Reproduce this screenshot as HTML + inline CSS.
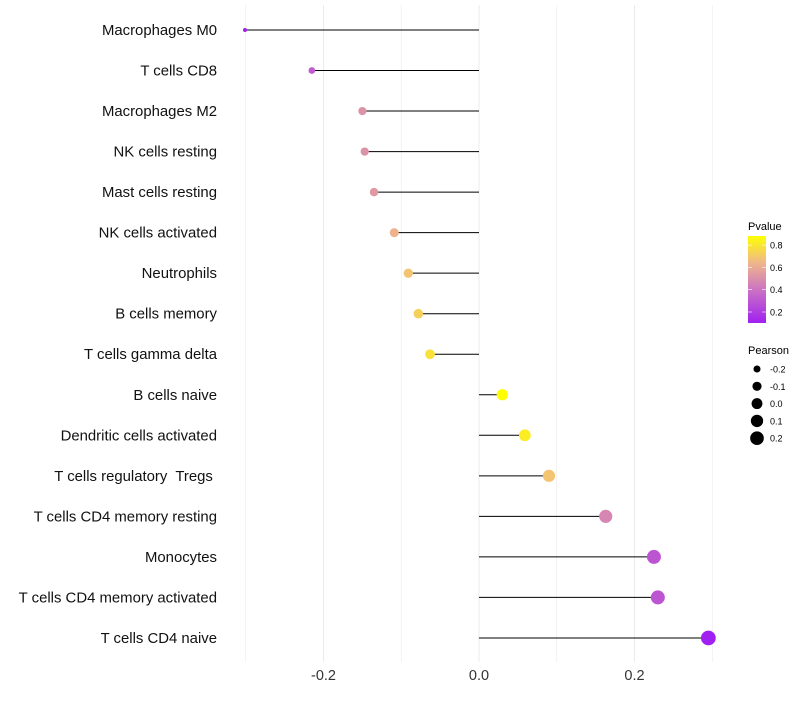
<!DOCTYPE html>
<html><head><meta charset="utf-8"><style>
body{margin:0;background:#fff;font-family:"Liberation Sans",sans-serif}
text{white-space:pre}
</style></head><body>
<svg id="c" width="800" height="700" xmlns="http://www.w3.org/2000/svg">
<defs><linearGradient id="g" x1="0" y1="1" x2="0" y2="0">
<stop offset="0" stop-color="#A020F0"/><stop offset="0.35" stop-color="#C86CC8"/><stop offset="0.7" stop-color="#F0B888"/><stop offset="1" stop-color="#FFFF00"/></linearGradient></defs>
</svg>
<script>
const categories=["Macrophages M0","T cells CD8","Macrophages M2","NK cells resting","Mast cells resting","NK cells activated","Neutrophils","B cells memory","T cells gamma delta","B cells naive","Dendritic cells activated","T cells regulatory  Tregs ","T cells CD4 memory resting","Monocytes","T cells CD4 memory activated","T cells CD4 naive"];
const pearson=[-0.301,-0.215,-0.150,-0.147,-0.135,-0.109,-0.091,-0.078,-0.063,0.030,0.059,0.090,0.163,0.225,0.230,0.295];
const pvalues=[0.10,0.30,0.50,0.50,0.52,0.62,0.68,0.72,0.78,0.88,0.82,0.68,0.45,0.28,0.28,0.08];
const xTicks=[-0.2,0.0,0.2];
const xMinor=[-0.3,-0.1,0.1,0.3];
const legendSizes=[-0.2,-0.1,0.0,0.1,0.2];
const legendP=[0.2,0.4,0.6,0.8];
const NS="http://www.w3.org/2000/svg",svg=document.getElementById('c');
const X=v=>479+v*777.5, Y=i=>30+i*40.53;
const R=v=>Math.sqrt(Math.max(3,4+85*(v+0.3)));
const stops=[[0.1,[160,32,240]],[0.37,[204,112,196]],[0.64,[240,184,136]],[0.88,[255,255,0]]];
function col(p){p=Math.max(0.1,Math.min(0.88,p));for(let i=0;i<stops.length-1;i++){const a=stops[i],b=stops[i+1];if(p<=b[0]){const t=(p-a[0])/(b[0]-a[0]);return 'rgb('+a[1].map((c,k)=>Math.round(c+(b[1][k]-c)*t)).join(',')+')';}}return 'rgb(255,255,0)';}
function el(t,a,txt){const e=document.createElementNS(NS,t);for(const k in a)e.setAttribute(k,a[k]);if(txt!=null)e.textContent=txt;svg.appendChild(e);return e;}
xMinor.concat(xTicks).forEach(v=>{const g=el('line',{x1:X(v),x2:X(v),y1:5,y2:662,stroke:'#ebebeb','stroke-width':xTicks.includes(v)?1:0.6});

});
xTicks.forEach(v=>{const t=el('text',{x:X(v),y:680,'font-size':14.5,'text-anchor':'middle',fill:'#333'},v.toFixed(1));

});
categories.forEach((c,i)=>{
const t=el('text',{x:217,y:Y(i)+5,'font-size':14.9,'text-anchor':'end',fill:'#111'},c);


const l=el('line',{x1:X(0),x2:X(pearson[i]),y1:Y(i),y2:Y(i),stroke:'#000','stroke-width':1});


const p=el('circle',{cx:X(pearson[i]),cy:Y(i),r:R(pearson[i]),fill:col(pvalues[i])});

});
let t=el('text',{x:748,y:230,'font-size':11},'Pvalue');


const bar=el('rect',{x:748,y:236,width:18,height:87,fill:'url(#g)'});


legendP.forEach(p=>{const y=312-(p-0.2)/0.2*22.3;
el('line',{x1:748,x2:752,y1:y,y2:y,stroke:'#fff','stroke-width':0.6});el('line',{x1:762,x2:766,y1:y,y2:y,stroke:'#fff','stroke-width':0.6});
const tt=el('text',{x:770,y:y+3.5,'font-size':9},p.toFixed(1));

});
t=el('text',{x:748,y:354,'font-size':11},'Pearson');


legendSizes.forEach((v,i)=>{const y=369+i*17.3;
const c=el('circle',{cx:757,cy:y,r:R(v),fill:'#000'});


const tt=el('text',{x:770,y:y+3.5,'font-size':9},v.toFixed(1));

});
</script>
</body></html>
